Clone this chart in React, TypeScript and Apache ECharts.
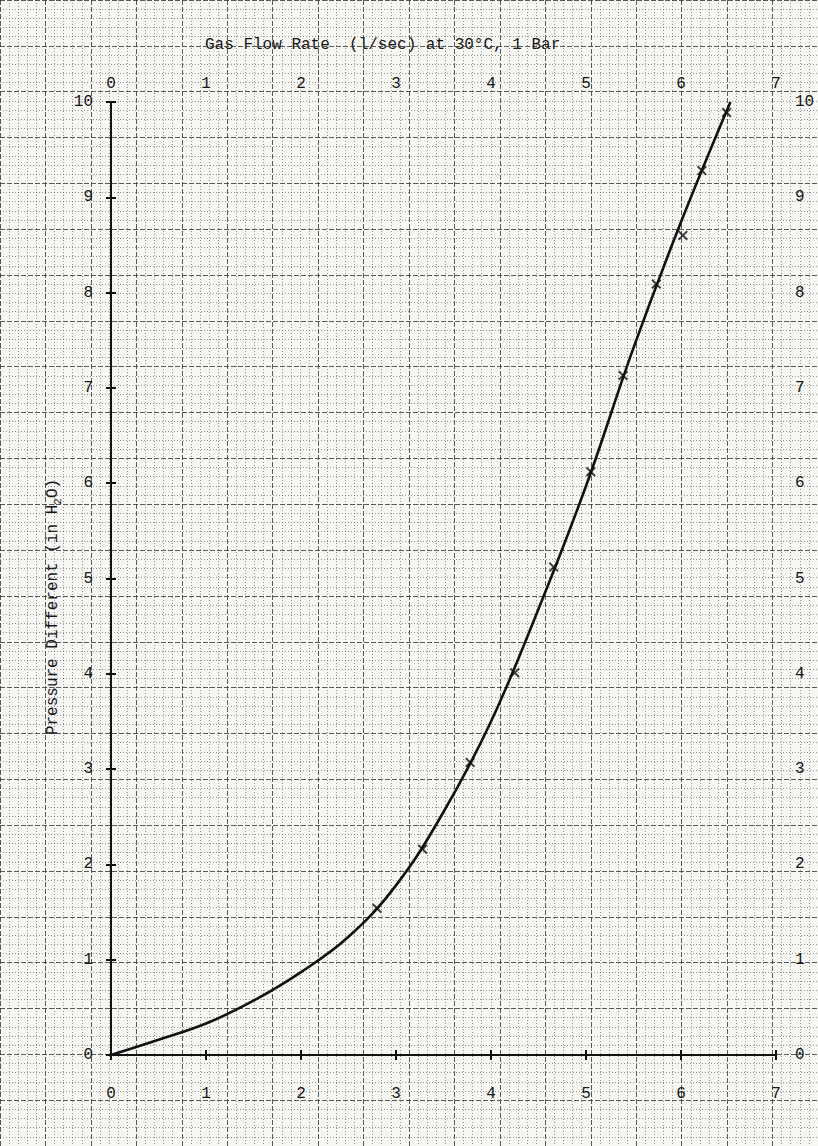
import React, { useEffect, useRef } from "react";
import * as echarts from "echarts";

// Measured points (x marks) : gas flow rate (l/sec) vs pressure difference (in H2O)
const markerFlow = [2.8, 3.28, 3.78, 4.25, 4.66, 5.05, 5.39, 5.74, 6.02, 6.22, 6.48];
const markerPressure = [1.54, 2.16, 3.07, 4.01, 5.12, 6.12, 7.13, 8.09, 8.6, 9.28, 9.89];

// Hand-drawn fitted curve
const curveFlow = [0, 0.5, 1.0, 1.5, 2.0, 2.5, 3.0, 3.5, 4.0, 4.5, 5.0, 5.5, 6.0, 6.52];
const curvePressure = [0, 0.16, 0.33, 0.57, 0.87, 1.24, 1.78, 2.55, 3.5, 4.68, 5.97, 7.42, 8.74, 10.0];

const xTitle = "Gas Flow Rate  (l/sec) at 30°C, 1 Bar";
const yTitleParts = ["Pressure Different (in H", "2", "O)"];

const MONO = "Liberation Mono";

const xMark = "path://M0,1.4 L1.4,0 L5,3.6 L8.6,0 L10,1.4 L6.4,5 L10,8.6 L8.6,10 L5,6.4 L1.4,10 L0,8.6 L3.6,5 Z";

function buildOption() {
  const axisLine = { show: true, lineStyle: { color: "#121212", width: 2 } };
  const axisTick = { show: true, inside: false, length: 5, lineStyle: { color: "#121212", width: 2 } };
  const label = { color: "#151515", fontFamily: MONO, fontSize: 16 };
  const paperSplit = { show: true, lineStyle: { color: "#333333", width: 1, type: [5, 2] as any, opacity: 0.8 } };
  const paperMinor = { show: true, lineStyle: { color: "#555555", width: 1, type: [1, 2] as any, opacity: 0.6 } };
  const hidden = { show: false };

  return {
    animation: false,
    backgroundColor: "#f6f6f3",
    grid: [
      { left: 111, right: 42, top: 102, bottom: 91, containLabel: false },
      { left: -31.5, right: -5.5, top: -41, bottom: -4.3, containLabel: false },
    ],
    xAxis: [
      {
        type: "value", gridIndex: 0, position: "bottom", min: 0, max: 7, interval: 1,
        axisLine, axisTick, axisLabel: { ...label, margin: 31 }, splitLine: hidden,
      },
      {
        type: "value", gridIndex: 0, position: "top", min: 0, max: 7, interval: 1,
        axisLine, axisTick, axisLabel: { ...label, margin: 10 }, splitLine: hidden,
      },
      {
        type: "value", gridIndex: 1, min: -1.5, max: 7.5, interval: 0.5,
        axisLine: hidden, axisTick: hidden, axisLabel: hidden,
        minorTick: { show: false, splitNumber: 5 },
        splitLine: paperSplit, minorSplitLine: paperMinor,
      },
    ],
    yAxis: [
      {
        type: "value", gridIndex: 0, position: "left", min: 0, max: 10, interval: 1,
        axisLine, axisTick, axisLabel: { ...label, margin: 18 }, splitLine: hidden,
      },
      {
        type: "value", gridIndex: 0, position: "right", min: 0, max: 10, interval: 1,
        axisLine, axisTick, axisLabel: { ...label, margin: 19 }, splitLine: hidden,
      },
      {
        type: "value", gridIndex: 1, min: -1, max: 11.5, interval: 0.5,
        axisLine: hidden, axisTick: hidden, axisLabel: hidden,
        minorTick: { show: false, splitNumber: 5 },
        splitLine: paperSplit, minorSplitLine: paperMinor,
      },
    ],
    series: [
      {
        type: "line",
        xAxisIndex: 0, yAxisIndex: 0,
        data: curveFlow.map((x, i) => [x, curvePressure[i]]),
        smooth: 0.4,
        showSymbol: false,
        lineStyle: { color: "#121212", width: 2.6 },
        z: 5,
      },
      {
        type: "scatter",
        xAxisIndex: 0, yAxisIndex: 0,
        data: markerFlow.map((x, i) => [x, markerPressure[i]]),
        symbol: xMark,
        symbolSize: 10,
        itemStyle: { color: "#121212" },
        z: 6,
      },
    ],
    graphic: [
      {
        type: "text",
        left: 205,
        top: 37,
        style: { text: xTitle, fontFamily: MONO, fontSize: 16, fill: "#151515" },
      },
      {
        type: "text",
        x: 53,
        y: 607,
        rotation: Math.PI / 2,
        style: {
          text: `{n|${yTitleParts[0]}}{s|${yTitleParts[1]}}{n|${yTitleParts[2]}}`,
          align: "center",
          verticalAlign: "middle",
          fill: "#151515",
          rich: {
            n: { fontFamily: MONO, fontSize: 16, lineHeight: 20, fill: "#151515" },
            s: { fontFamily: MONO, fontSize: 11, lineHeight: 20, padding: [10, 0, 0, 0], fill: "#151515" },
          },
        },
      },
    ],
  };
}

export default function App() {
  const ref = useRef<HTMLDivElement>(null);
  useEffect(() => {
    if (!ref.current) return;
    const chart = echarts.init(ref.current, null, { renderer: "svg" });
    chart.setOption(buildOption() as any);
    return () => chart.dispose();
  }, []);
  return (
    <div
      ref={ref}
      style={{ position: "fixed", left: 0, top: 0, width: 818, height: 1146 }}
    />
  );
}
